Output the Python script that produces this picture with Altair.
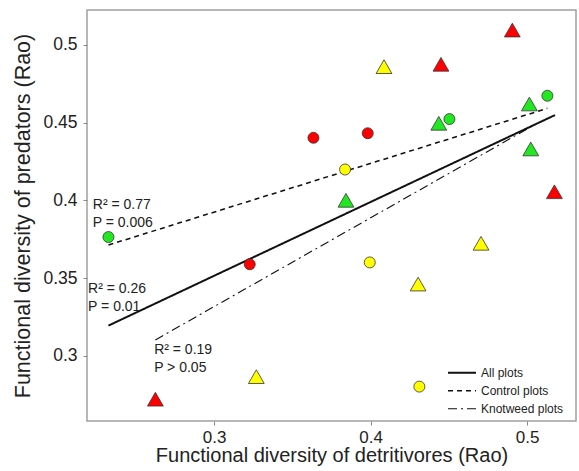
import altair as alt
import pandas as pd

# ---- data ----
pt_x = [0.2325, 0.5130, 0.4504, 0.3635, 0.3982, 0.3228, 0.3837, 0.3995, 0.4312,
        0.4906, 0.4450, 0.5175, 0.2625, 0.4086, 0.4706, 0.4304, 0.3270,
        0.5015, 0.4436, 0.5024, 0.3843]
pt_y = [0.3764, 0.4672, 0.4522, 0.4402, 0.4431, 0.3589, 0.4198, 0.3601, 0.2803,
        0.5094, 0.4874, 0.4055, 0.2722, 0.4859, 0.3724, 0.3462, 0.2867,
        0.4619, 0.4495, 0.4330, 0.4000]
pt_color = ["green", "green", "green", "red", "red", "red", "yellow", "yellow", "yellow",
            "red", "red", "red", "red", "yellow", "yellow", "yellow", "yellow",
            "green", "green", "green", "green"]
pt_shape = ["circle"] * 9 + ["triangle"] * 12

line_series = ["All plots", "All plots", "Control plots", "Control plots",
               "Knotweed plots", "Knotweed plots"]
line_x = [0.2325, 0.5179, 0.2325, 0.5130, 0.2625, 0.5030]
line_y = [0.3195, 0.4548, 0.3713, 0.4591, 0.3103, 0.4475]

ann_text = ["R² = 0.77", "P = 0.006", "R² = 0.26", "P = 0.01", "R² = 0.19", "P > 0.05"]
ann_x = [0.2225, 0.2225, 0.2195, 0.2195, 0.2617, 0.2617]
ann_y = [0.3942, 0.3826, 0.3406, 0.3290, 0.3013, 0.2897]

x_ticks = [0.3, 0.4, 0.5]
y_ticks = [0.3, 0.35, 0.4, 0.45, 0.5]

FONT = "Liberation Sans"

pts = pd.DataFrame({"x": pt_x, "y": pt_y, "c": pt_color, "s": pt_shape})
lines = pd.DataFrame({"series": line_series, "x": line_x, "y": line_y})
ann = pd.DataFrame({"t": ann_text, "x": ann_x, "y": ann_y})

xs = alt.Scale(domain=[0.2188, 0.5313], nice=False, zero=False)
ys = alt.Scale(domain=[0.2582, 0.5223], nice=False, zero=False)

xax = alt.Axis(values=x_ticks, format=".1f", title="Functional diversity of detritivores (Rao)",
               grid=False, domain=False, tickSize=4, tickColor="#888888", labelPadding=4,
               labelFontSize=17, titleFontSize=20, titlePadding=0, labelFont=FONT, titleFont=FONT,
               titleFontWeight="normal", labelColor="#222", titleColor="#222")
yax = alt.Axis(values=y_ticks, format=".2~f", title="Functional diversity of predators (Rao)",
               grid=False, domain=False, tickSize=4, tickColor="#888888", labelPadding=6,
               labelFontSize=17.5, titleFontSize=21.5, titlePadding=8, labelFont=FONT, titleFont=FONT,
               titleFontWeight="normal", labelColor="#222", titleColor="#222")

line_layer = alt.Chart(lines).mark_line(color="#111").encode(
    x=alt.X("x:Q", scale=xs, axis=xax),
    y=alt.Y("y:Q", scale=ys, axis=yax),
    detail="series:N",
    strokeDash=alt.StrokeDash(
        "series:N",
        scale=alt.Scale(domain=["All plots", "Control plots", "Knotweed plots"],
                        range=[[1, 0], [5, 4], [9, 4, 2, 4]]),
        legend=alt.Legend(title=None, orient="none", legendX=360, legendY=354, padding=0,
                          symbolType="stroke", symbolSize=784, symbolStrokeWidth=1.2,
                          symbolStrokeColor="#111", labelFontSize=12, labelFont=FONT,
                          labelColor="#222", labelOffset=4, rowPadding=0, clipHeight=17.5),
    ),
    strokeWidth=alt.StrokeWidth(
        "series:N",
        scale=alt.Scale(domain=["All plots", "Control plots", "Knotweed plots"],
                        range=[2, 1.1, 1.1]),
        legend=None,
    ),
)

pt_layer = alt.Chart(pts).mark_point(filled=True, stroke="#333", strokeWidth=0.8, opacity=1).encode(
    x=alt.X("x:Q", scale=xs),
    y=alt.Y("y:Q", scale=ys),
    fill=alt.Fill("c:N", scale=alt.Scale(domain=["red", "yellow", "green"],
                                          range=["#ff0000", "#ffff00", "#22e822"]), legend=None),
    shape=alt.Shape("s:N", scale=alt.Scale(domain=["circle", "triangle"],
                                            range=["circle", "triangle-up"]), legend=None),
    size=alt.Size("s:N", scale=alt.Scale(domain=["circle", "triangle"], range=[121, 250]), legend=None),
)

txt_layer = alt.Chart(ann).mark_text(align="left", baseline="alphabetic", fontSize=14,
                                     font=FONT, color="#222").encode(
    x=alt.X("x:Q", scale=xs),
    y=alt.Y("y:Q", scale=ys),
    text="t:N",
)

chart = alt.layer(line_layer, pt_layer, txt_layer).properties(
    width=489, height=411,
    autosize=alt.AutoSizeParams(type="none"),
    padding={"left": 87, "top": 10, "right": 3, "bottom": 50},
    background="white",
).configure_view(stroke="#a0a0a0", strokeWidth=1.5)

chart.save("out.html", embed_options={"renderer": "svg", "actions": False})
